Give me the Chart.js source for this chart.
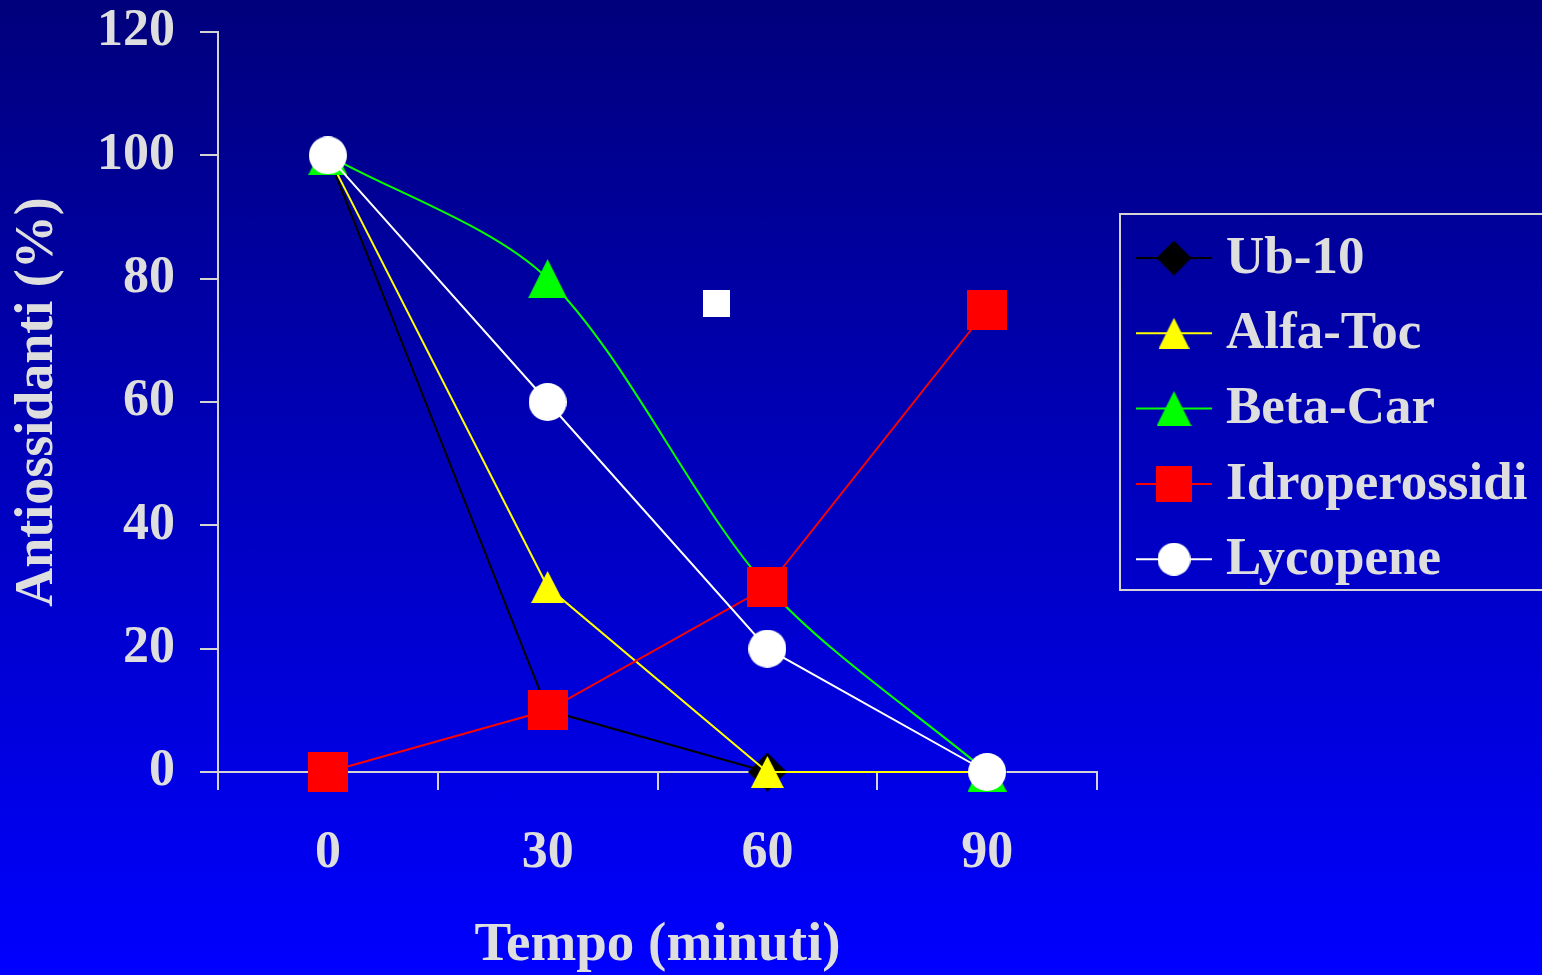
<!DOCTYPE html>
<html>
<head>
<meta charset="utf-8">
<script src="https://cdn.jsdelivr.net/npm/chart.js@4.4.1/dist/chart.umd.min.js"></script>
<style>
html, body { margin: 0; padding: 0; }
body {
    width: 1542px;
    height: 975px;
    overflow: hidden;
    background: linear-gradient(to bottom, #00007c, #0000ff);
}
#contenitore { width: 1542px; height: 975px; position: relative; }
</style>
</head>
<body>
<div id="contenitore"><canvas id="graficaAntiossidanti"></canvas></div>
<script>
// === Dati ===
const tempi = ['0', '30', '60', '90'];
const ub10 = [100, 10, 0, 0];
const alfaToc = [100, 30, 0, 0];
const betaCar = [100, 80, 30, 0];
const idroperossidi = [0, 10, 30, 75];
const lycopene = [100, 60, 20, 0];
const puntoIsolato = [{ x: 53, y: 76 }];   // quadratino bianco senza legenda
const tickY = [0, 20, 40, 60, 80, 100, 120];

const coloreTesto = '#dedede';
const coloreAssi = '#d4d4d4';
const fontSerif = '"Liberation Serif", "Times New Roman", serif';

// marcatori disegnati su canvas (centrati sul riquadro, come in Excel)
function marcatore(forma, w, h, colore) {
    const c = document.createElement('canvas');
    c.width = Math.ceil(w);
    c.height = Math.ceil(h);
    const g = c.getContext('2d');
    g.fillStyle = colore;
    g.beginPath();
    if (forma === 'diamond') {
        g.moveTo(w / 2, 0); g.lineTo(w, h / 2); g.lineTo(w / 2, h); g.lineTo(0, h / 2);
    } else if (forma === 'triangle') {
        g.moveTo(w / 2, 0); g.lineTo(w, h); g.lineTo(0, h);
    } else if (forma === 'circle') {
        g.arc(w / 2, h / 2, w / 2, 0, Math.PI * 2);
    } else {
        g.rect(0, 0, w, h);
    }
    g.closePath();
    g.fill();
    return c;
}

const serie = [
    { label: 'Ub-10', data: ub10, colore: '#000000', m: marcatore('diamond', 39, 39, '#000000'), leg: marcatore('diamond', 35, 35, '#000000'), order: 4 },
    { label: 'Alfa-Toc', data: alfaToc, colore: '#ffff00', m: marcatore('triangle', 33, 32, '#ffff00'), leg: marcatore('triangle', 31, 31, '#ffff00'), order: 3 },
    { label: 'Beta-Car', data: betaCar, colore: '#00ff00', m: marcatore('triangle', 39, 39, '#00ff00'), leg: marcatore('triangle', 35, 35, '#00ff00'), order: 2, tension: 0.3 },
    { label: 'Idroperossidi', data: idroperossidi, colore: '#ff0000', m: marcatore('rect', 40, 40, '#ff0000'), leg: marcatore('rect', 36, 36, '#ff0000'), order: 1 },
    { label: 'Lycopene', data: lycopene, colore: '#ffffff', m: marcatore('circle', 38, 38, '#ffffff'), leg: marcatore('circle', 33, 33, '#ffffff'), order: 0 }
];

const datasets = serie.map(s => ({
    label: s.label,
    data: s.data,
    borderColor: s.colore,
    backgroundColor: s.colore,
    borderWidth: 2,
    tension: s.tension || 0,
    pointStyle: s.m,
    pointRadius: 19,
    pointHoverRadius: 19,
    legendMarker: s.leg,
    order: s.order,
    clip: false
}));

datasets.push({
    data: puntoIsolato,
    xAxisID: 'x2',
    showLine: false,
    pointStyle: marcatore('rect', 27, 27, '#ffffff'),
    pointRadius: 14,
    order: 0,
    clip: false
});

// === Legenda con riquadro ===
const legendaRiquadro = {
    id: 'legendaRiquadro',
    afterDraw(chart) {
        const ctx = chart.ctx;
        ctx.save();
        ctx.strokeStyle = coloreAssi;
        ctx.lineWidth = 2;
        ctx.strokeRect(1120, 214, 440, 376);
        chart.data.datasets.forEach((ds, i) => {
            if (!ds.label) return;
            const y = 258 + i * 75.3;
            ctx.strokeStyle = ds.borderColor;
            ctx.lineWidth = 2;
            ctx.beginPath();
            ctx.moveTo(1136, y);
            ctx.lineTo(1212, y);
            ctx.stroke();
            const m = ds.legendMarker;
            ctx.drawImage(m, 1174 - m.width / 2, y - m.height / 2);
            ctx.fillStyle = coloreTesto;
            ctx.font = 'bold 53px ' + fontSerif;
            ctx.textBaseline = 'middle';
            ctx.textAlign = 'left';
            ctx.fillText(ds.label, 1226, y + 1);
        });
        ctx.restore();
    }
};

const ctxAntiossidanti = document.getElementById('graficaAntiossidanti').getContext('2d');

new Chart(ctxAntiossidanti, {
    type: 'line',
    data: {
        labels: tempi,
        datasets: datasets
    },
    plugins: [legendaRiquadro],
    options: {
        responsive: true,
        maintainAspectRatio: false,
        animation: false,
        layout: {
            padding: { top: 32, right: 445, left: 0, bottom: 0 }
        },
        plugins: {
            legend: { display: false },
            tooltip: { enabled: false }
        },
        scales: {
            x: {
                type: 'category',
                offset: true,
                afterFit: s => { s.height = 203; },
                ticks: {
                    color: coloreTesto,
                    padding: 32,
                    font: { family: fontSerif, size: 52, weight: 'bold' }
                },
                grid: {
                    offset: true,
                    drawOnChartArea: false,
                    tickLength: 18,
                    color: coloreAssi,
                    lineWidth: 2
                },
                border: { color: coloreAssi, width: 2 },
                title: {
                    display: true,
                    text: 'Tempo (minuti)',
                    color: coloreTesto,
                    padding: { top: 0, bottom: -4 },
                    font: { family: fontSerif, size: 55, weight: 'bold' }
                }
            },
            x2: {
                type: 'linear',
                display: false,
                min: -15,
                max: 105
            },
            y: {
                min: 0,
                max: 120,
                afterFit: s => {
                    s.width = 218;
                    s.paddingTop = 0;
                    s.paddingBottom = 0;
                },
                afterBuildTicks: s => { s.ticks = tickY.map(v => ({ value: v })); },
                ticks: {
                    color: coloreTesto,
                    padding: 25,
                    font: { family: fontSerif, size: 52, weight: 'bold' }
                },
                grid: {
                    drawOnChartArea: false,
                    tickLength: 18,
                    color: coloreAssi,
                    lineWidth: 2
                },
                border: { color: coloreAssi, width: 2 },
                title: {
                    display: true,
                    text: 'Antiossidanti (%)',
                    color: coloreTesto,
                    padding: { top: 6, bottom: 0 },
                    font: { family: fontSerif, size: 54, weight: 'bold' }
                }
            }
        }
    }
});
</script>
</body>
</html>
